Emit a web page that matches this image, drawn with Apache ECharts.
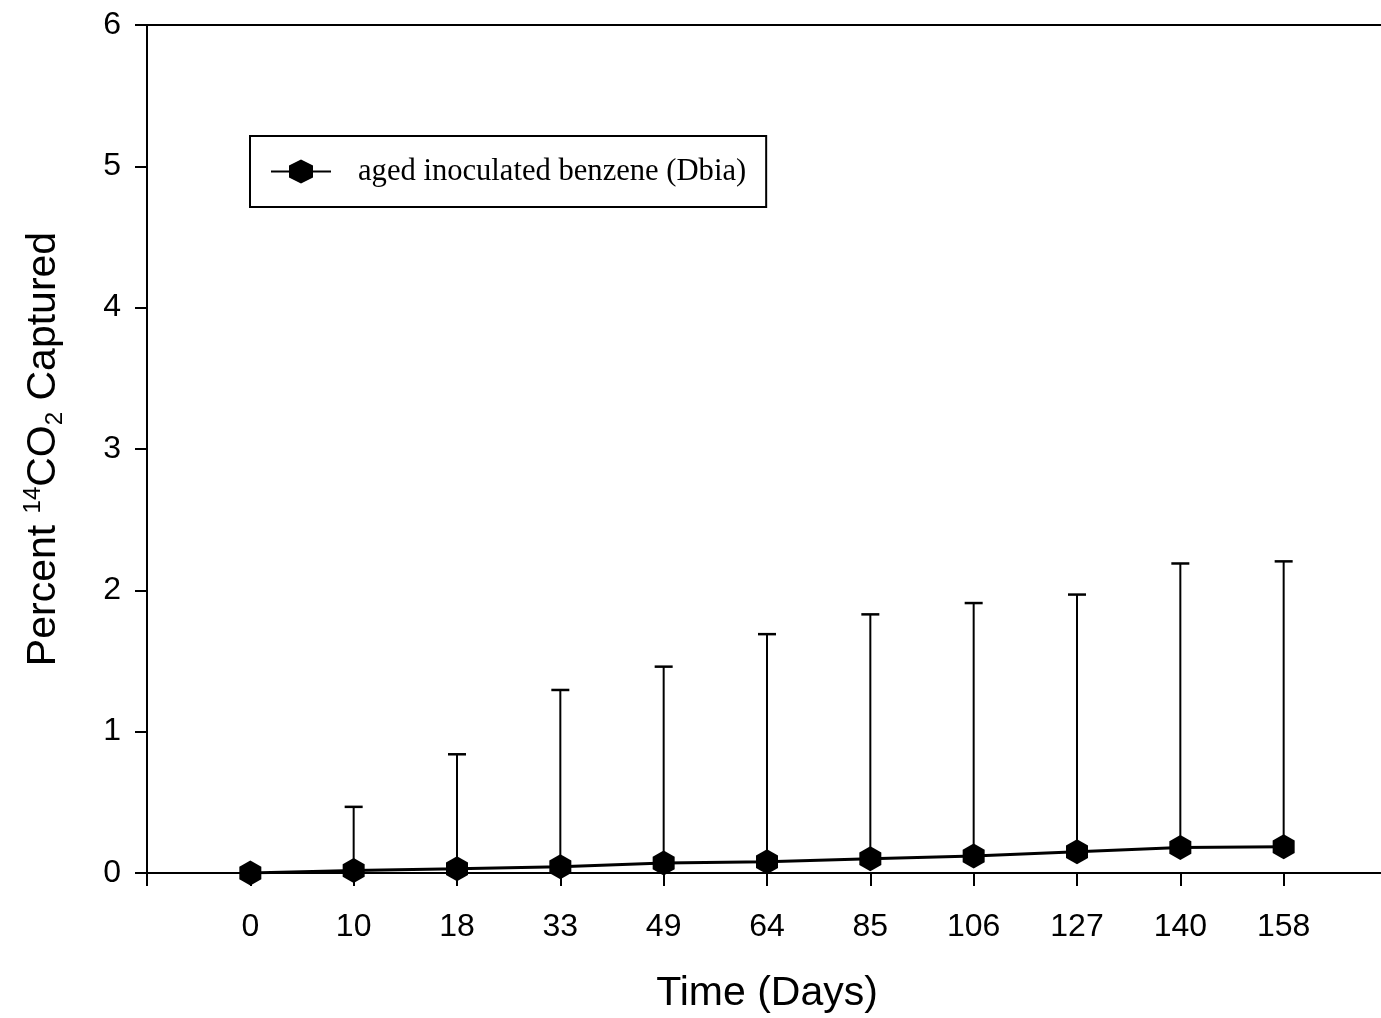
<!DOCTYPE html>
<html>
<head>
<meta charset="utf-8">
<script src="https://cdn.jsdelivr.net/npm/echarts@6/dist/echarts.min.js"></script>
<style>
html,body{margin:0;padding:0;background:#fff;}
#chart{width:1381px;height:1018px;}
</style>
</head>
<body>
<div id="chart"></div>
<script>
// Categories (days) shown on the x axis
const days = ['0', '10', '18', '33', '49', '64', '85', '106', '127', '140', '158'];
// Mean percent 14CO2 captured
const meanValues = [0, 0.018, 0.03, 0.045, 0.07, 0.08, 0.10, 0.12, 0.15, 0.18, 0.185];
// Upper error (plus) amounts
const errPlus = [0, 0.45, 0.81, 1.25, 1.39, 1.61, 1.73, 1.79, 1.82, 2.01, 2.02];
// Y tick range
const yMin = 0, yMax = 6, yStep = 1;
const seriesName = 'aged inoculated benzene (Dbia)';

const hexagon = 'path://M0,-1 L0.866,-0.5 L0.866,0.5 L0,1 L-0.866,0.5 L-0.866,-0.5 Z';

const lineData = days.map((d, i) => [i + 1, meanValues[i]]);
const errData = days.map((d, i) => [i + 1, meanValues[i], meanValues[i] + errPlus[i]]);

const chart = echarts.init(document.getElementById('chart'), null, {renderer: 'canvas'});
const font = 'Liberation Sans, Arial, sans-serif';

chart.setOption({
  animation: false,
  backgroundColor: '#fff',
  grid: {
    left: 147, top: 25, right: -6, bottom: 145,
    outerBoundsMode: 'none',
    containLabel: false,
    show: true, borderColor: '#000', borderWidth: 2, backgroundColor: 'transparent'
  },
  legend: {
    left: 250, top: 136,
    padding: [20, 20, 20, 20],
    borderColor: '#000', borderWidth: 2,
    itemWidth: 60, itemHeight: 30,
    textStyle: {fontFamily: 'Liberation Serif, Times New Roman, serif', fontSize: 30.6, color: '#000', padding: [0, 0, 0, 22], lineHeight: 31},
    data: [seriesName]
  },
  xAxis: {
    type: 'value', min: 0, max: 12, interval: 1,
    name: 'Time (Days)', nameLocation: 'middle', nameGap: 100,
    nameTextStyle: {fontFamily: font, fontSize: 41, color: '#000'},
    axisLine: {show: true, lineStyle: {color: '#000', width: 2}},
    axisTick: {show: true, length: 13, lineStyle: {color: '#000', width: 2}},
    axisLabel: {
      margin: 38, fontFamily: font, fontSize: 32, color: '#000',
      formatter: v => (v >= 1 && v <= days.length) ? days[v - 1] : ''
    },
    splitLine: {show: false}
  },
  yAxis: {
    type: 'value', min: yMin, max: yMax, interval: yStep,
    name: '{a|Percent }{sup|14}{a|CO}{sub|2}{a| Captured}',
    nameLocation: 'middle', nameGap: 80, nameRotate: 90,
    nameTextStyle: {
      fontFamily: font, fontSize: 41, color: '#000',
      rich: {
        a: {fontFamily: font, fontSize: 41, color: '#000', lineHeight: 46},
        sup: {fontFamily: font, fontSize: 24, color: '#000', lineHeight: 20, verticalAlign: 'top'},
        sub: {fontFamily: font, fontSize: 24, color: '#000', lineHeight: 14, verticalAlign: 'bottom'}
      }
    },
    axisLine: {show: true, lineStyle: {color: '#000', width: 2}},
    axisTick: {show: true, length: 12, lineStyle: {color: '#000', width: 2}},
    axisLabel: {margin: 26, fontFamily: font, fontSize: 32, color: '#000'},
    splitLine: {show: false}
  },
  series: [
    {
      type: 'custom',
      name: 'error',
      data: errData,
      z: 1,
      renderItem: function (params, api) {
        const x = api.value(0), y = api.value(1), top = api.value(2);
        if (top <= y) return {type: 'group', children: []};
        const p0 = api.coord([x, y]);
        const p1 = api.coord([x, top]);
        return {
          type: 'group',
          children: [
            {type: 'line', shape: {x1: p0[0], y1: p0[1], x2: p1[0], y2: p1[1]}, style: {stroke: '#000', lineWidth: 2}},
            {type: 'line', shape: {x1: p1[0] - 9, y1: p1[1], x2: p1[0] + 9, y2: p1[1]}, style: {stroke: '#000', lineWidth: 2.5}}
          ]
        };
      }
    },
    {
      type: 'line',
      name: seriesName,
      data: lineData,
      z: 3,
      symbol: hexagon,
      symbolSize: [22, 25],
      showAllSymbol: true,
      lineStyle: {color: '#000', width: 3},
      itemStyle: {color: '#000', borderWidth: 0}
    }
  ]
});
</script>
</body>
</html>
